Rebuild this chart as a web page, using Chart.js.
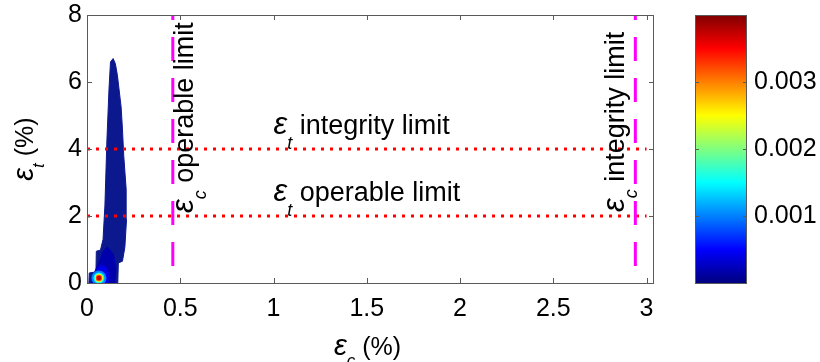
<!DOCTYPE html>
<html><head><meta charset="utf-8">
<script src="https://cdn.jsdelivr.net/npm/chart.js@4.4.1/dist/chart.umd.min.js"></script>
<style>
html,body{margin:0;padding:0;background:#fff;}
#wrap{position:relative;width:820px;height:362px;background:#fff;}
#main{position:absolute;left:0;top:0;}
#cbar{position:absolute;left:690px;top:0;}
</style></head><body>
<div id="wrap">
<canvas id="main" width="690" height="362"></canvas>
<canvas id="cbar" width="130" height="362"></canvas>
</div>
<script>
// ---- data ----
const xTicks = [0, 0.5, 1, 1.5, 2, 2.5, 3];
const yTicks = [0, 2, 4, 6, 8];
const xRange = [0, 3.04];
const yRange = [0, 8];
const cbarTicks = [0.001, 0.002, 0.003];
const cbarRange = [0, 0.004];
const epsCLimits = [0.46, 2.94];   // operable, integrity (eps_c, %)
const epsTLimits = [2, 4];         // operable, integrity (eps_t, %)
// outline of the density region (low density)
const blobX = [0.165, 0.168, 0.19, 0.203, 0.212, 0.21, 0.197, 0.19, 0.183, 0.163, 0.152, 0.14, 0.126, 0.118, 0.107, 0.096, 0.086, 0.072, 0.05, 0.048, 0.012, 0.01, 0.165];
const blobY = [0, 0.6, 0.65, 1.07, 1.9, 2.8, 3.8, 4.6, 5.25, 6.2, 6.55, 6.7, 6.6, 5.8, 4.3, 2.3, 1.3, 0.98, 0.95, 0.33, 0.3, 0, 0];
// medium density zone near the origin
const midX = [0.02, 0.15, 0.158, 0.145, 0.11, 0.085, 0.06, 0.04, 0.02];
const midY = [0, 0, 0.4, 0.85, 1.1, 0.95, 0.6, 0.35, 0];
const midDensity = 0.00018;
const innerX = [0.028, 0.115, 0.12, 0.1, 0.07, 0.045, 0.028];
const innerY = [0, 0, 0.28, 0.5, 0.55, 0.38, 0];
const innerDensity = 0.0004;
const peakX = [0.064];
const peakY = [0.15];
const peakLevels = [0.0010, 0.0015, 0.0024, 0.0032, 0.0037];

const FONT = '"Liberation Sans", Arial, Helvetica, sans-serif';

function clamp(v){ return Math.max(0, Math.min(1, v)); }
function jet(t){
  const r = clamp(1.5 - Math.abs(4*t - 3));
  const g = clamp(1.5 - Math.abs(4*t - 2));
  const b = clamp(1.5 - Math.abs(4*t - 1));
  return `rgb(${Math.round(r*255)},${Math.round(g*255)},${Math.round(b*255)})`;
}
function dens(v){ return jet((v - cbarRange[0]) / (cbarRange[1] - cbarRange[0])); }
function pts(xs, ys){ return xs.map((x, i) => ({x, y: ys[i]})); }
function noPad(s){ s.paddingTop = 0; s.paddingBottom = 0; s.paddingLeft = 0; s.paddingRight = 0; }

function drawEps(ctx, x, y, sub, rest, size, rot, subDrop){
  ctx.save();
  ctx.translate(x, y);
  ctx.rotate(rot);
  ctx.fillStyle = '#000';
  ctx.textAlign = 'left';
  ctx.textBaseline = 'alphabetic';
  ctx.font = `italic ${Math.round(size*1.15)}px ${FONT}`;
  ctx.fillText('\u03B5', 0, 0);
  const w = ctx.measureText('\u03B5').width;
  const ss = Math.round(size * 0.68);
  ctx.font = `italic ${ss}px ${FONT}`;
  ctx.fillText(sub, w, subDrop);
  const w2 = ctx.measureText(sub).width;
  ctx.font = `${size}px ${FONT}`;
  ctx.fillText(rest, w + w2 + size * 0.28, 0);
  ctx.restore();
}
function epsWidth(ctx, sub, rest, size){
  ctx.save();
  ctx.font = `italic ${Math.round(size*1.15)}px ${FONT}`;
  const w = ctx.measureText('\u03B5').width;
  ctx.font = `italic ${Math.round(size*0.68)}px ${FONT}`;
  const w2 = ctx.measureText(sub).width;
  ctx.font = `${size}px ${FONT}`;
  const w3 = ctx.measureText(rest).width;
  ctx.restore();
  return w + w2 + size*0.28 + w3;
}

const decor = {
  id: 'decor',
  afterDatasetsDraw(chart){
    const {ctx, chartArea: a, scales: {x, y}} = chart;
    drawEps(ctx, x.getPixelForValue(1.0), y.getPixelForValue(4.44), 't', 'integrity limit', 27, 0, 15);
    drawEps(ctx, x.getPixelForValue(1.0), y.getPixelForValue(2.44), 't', 'operable limit', 27, 0, 15);
    drawEps(ctx, x.getPixelForValue(0.568), y.getPixelForValue(2.09), 'c', 'operable limit', 27, -Math.PI/2, 13);
    drawEps(ctx, x.getPixelForValue(2.88), y.getPixelForValue(2.12), 'c', 'integrity limit', 27, -Math.PI/2, 13);
    const wx = epsWidth(ctx, 'c', '(%)', 25);
    drawEps(ctx, (a.left + a.right)/2 - wx/2 - 3, a.bottom + 72, 'c', '(%)', 25, 0, 11);
    const wy = epsWidth(ctx, 't', '(%)', 25);
    drawEps(ctx, 33, (a.top + a.bottom)/2 + wy/2, 't', '(%)', 25, -Math.PI/2, 11);
  },
  afterDraw(chart){
    const {ctx, chartArea: a, scales: {x, y}} = chart;
    ctx.save();
    ctx.strokeStyle = '#5a5a5a';
    ctx.lineWidth = 1;
    ctx.strokeRect(a.left + 0.5, a.top + 0.5, a.right - a.left - 1, a.bottom - a.top);
    const L = 5;
    ctx.beginPath();
    x.ticks.forEach(t => {
      const px = Math.round(x.getPixelForValue(t.value)) + 0.5;
      ctx.moveTo(px, a.bottom); ctx.lineTo(px, a.bottom - L);
      ctx.moveTo(px, a.top); ctx.lineTo(px, a.top + L);
    });
    y.ticks.forEach(t => {
      const py = Math.round(y.getPixelForValue(t.value)) + 0.5;
      ctx.moveTo(a.left, py); ctx.lineTo(a.left + L, py);
      ctx.moveTo(a.right, py); ctx.lineTo(a.right - L, py);
    });
    ctx.stroke();
    ctx.restore();
  }
};

const lineDefaults = {showLine: true, pointRadius: 0, tension: 0, fill: false};
const datasets = [];
epsCLimits.forEach(v => datasets.push(Object.assign({}, lineDefaults, {
  data: [{x: v, y: yRange[1]}, {x: v, y: yRange[0]}],
  borderColor: '#ff00ff', borderWidth: 3, borderDash: [24, 17], borderDashOffset: 19,
  borderCapStyle: 'butt', order: 0, clip: 0
})));
epsTLimits.forEach(v => datasets.push(Object.assign({}, lineDefaults, {
  data: [{x: xRange[0], y: v}, {x: 3.0, y: v}],
  borderColor: '#ff0000', borderWidth: 3, borderDash: [3, 6], borderDashOffset: 0,
  borderCapStyle: 'butt', order: 0, clip: 0
})));
datasets.push(Object.assign({}, lineDefaults, {
  data: pts(blobX, blobY), borderColor: 'rgb(12,24,142)', borderWidth: 1,
  backgroundColor: 'rgb(12,24,142)', fill: 'shape', order: 20, clip: 0
}));
datasets.push(Object.assign({}, lineDefaults, {
  data: pts(midX, midY), borderColor: 'rgba(0,0,0,0)', borderWidth: 0,
  backgroundColor: dens(midDensity), fill: 'shape', order: 16, clip: 0
}));
datasets.push(Object.assign({}, lineDefaults, {
  data: pts(innerX, innerY), borderColor: 'rgba(0,0,0,0)', borderWidth: 0,
  backgroundColor: dens(innerDensity), fill: 'shape', order: 15, clip: 0
}));
const peakRadii = [7.5, 5.5, 4.2, 3.2, 2.2];
peakLevels.forEach((lv, i) => datasets.push({
  data: pts(peakX, peakY), showLine: false,
  pointRadius: peakRadii[i], pointBorderWidth: 0, pointBackgroundColor: dens(lv),
  pointHoverRadius: peakRadii[i], order: 10 - i, clip: 0
}));

new Chart(document.getElementById('main'), {
  type: 'scatter',
  data: {datasets},
  options: {
    responsive: false, animation: false, devicePixelRatio: 1,
    layout: {padding: {left: 0, right: 36, top: 15, bottom: 0}},
    plugins: {legend: {display: false}, tooltip: {enabled: false}},
    events: [],
    scales: {
      x: {
        type: 'linear', min: xRange[0], max: xRange[1],
        afterBuildTicks: s => { s.ticks = xTicks.map(v => ({value: v})); },
        afterFit: s => { s.height = 79; noPad(s); },
        grid: {display: false, drawTicks: false}, border: {display: false},
        ticks: {padding: 14, color: '#000', font: {family: FONT, size: 25, lineHeight: 1}, maxRotation: 0, autoSkip: false, callback: v => String(v)}
      },
      y: {
        type: 'linear', min: yRange[0], max: yRange[1],
        afterBuildTicks: s => { s.ticks = yTicks.map(v => ({value: v})); },
        afterFit: s => { s.width = 87; noPad(s); },
        grid: {display: false, drawTicks: false}, border: {display: false},
        ticks: {padding: 5, color: '#000', font: {family: FONT, size: 25, lineHeight: 1}, autoSkip: false, callback: v => String(v)}
      }
    }
  },
  plugins: [decor]
});

const cbarDecor = {
  id: 'cbarDecor',
  afterDraw(chart){
    const {ctx, chartArea: a, scales: {y}} = chart;
    ctx.save();
    ctx.strokeStyle = '#5a5a5a';
    ctx.lineWidth = 1;
    ctx.strokeRect(a.left + 0.5, a.top + 0.5, a.right - a.left - 1, a.bottom - a.top);
    ctx.beginPath();
    y.ticks.forEach(t => {
      const py = Math.round(y.getPixelForValue(t.value)) + 0.5;
      ctx.moveTo(a.left, py); ctx.lineTo(a.left + 4, py);
      ctx.moveTo(a.right, py); ctx.lineTo(a.right - 4, py);
    });
    ctx.stroke();
    ctx.restore();
  }
};
new Chart(document.getElementById('cbar'), {
  type: 'bar',
  data: {
    labels: ['density'],
    datasets: [{
      data: [[cbarRange[0], cbarRange[1]]],
      barPercentage: 1, categoryPercentage: 1, borderWidth: 0,
      backgroundColor: c => {
        const a = c.chart.chartArea;
        if (!a) return jet(0);
        const g = c.chart.ctx.createLinearGradient(0, a.bottom, 0, a.top);
        for (let i = 0; i <= 32; i++) g.addColorStop(i/32, jet(i/32));
        return g;
      }
    }]
  },
  options: {
    responsive: false, animation: false, devicePixelRatio: 1, events: [],
    layout: {padding: {left: 5, right: 0, top: 15, bottom: 79}},
    plugins: {legend: {display: false}, tooltip: {enabled: false}},
    scales: {
      x: {display: false},
      y: {
        position: 'right', min: cbarRange[0], max: cbarRange[1],
        afterBuildTicks: s => { s.ticks = cbarTicks.map(v => ({value: v})); },
        afterFit: s => { s.width = 73; noPad(s); },
        grid: {display: false, drawTicks: false}, border: {display: false},
        ticks: {padding: 7, color: '#000', font: {family: FONT, size: 25, lineHeight: 1}, autoSkip: false, callback: v => v.toFixed(3)}
      }
    }
  },
  plugins: [cbarDecor]
});
</script>
</body></html>
